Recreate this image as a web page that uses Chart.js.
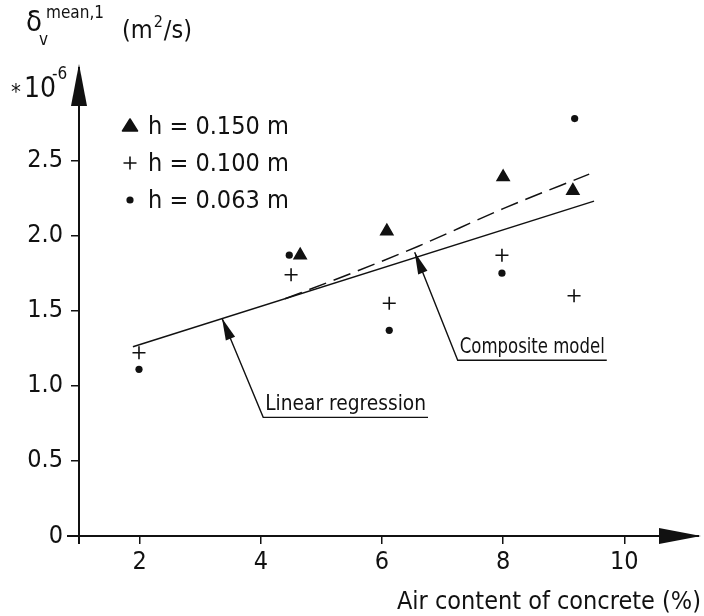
<!DOCTYPE html>
<html>
<head>
<meta charset="utf-8">
<script src="https://cdn.jsdelivr.net/npm/chart.js@4.4.1/dist/chart.umd.min.js"></script>
<style>
  html, body { margin: 0; padding: 0; background: #fff; }
  #wrap { width: 704px; height: 616px; }
</style>
</head>
<body>
<div id="wrap"><canvas id="chart" width="704" height="616"></canvas></div>
<script>
var FONT = '"DejaVu Sans Condensed", "DejaVu Sans", sans-serif';
var INK = "#111";

var xTicks = [2, 4, 6, 8, 10];
var yTicks = [0, 0.5, 1.0, 1.5, 2.0, 2.5];

// h = 0.150 m (triangles)
var airH150 = [4.65, 6.08, 8.0, 9.15];
var valH150 = [1.87, 2.03, 2.39, 2.30];
// h = 0.100 m (crosses)
var airH100 = [1.99, 4.5, 6.12, 7.98, 9.17];
var valH100 = [1.22, 1.74, 1.55, 1.87, 1.60];
// h = 0.063 m (dots)
var airH063 = [1.99, 4.47, 6.12, 7.98, 9.18];
var valH063 = [1.11, 1.87, 1.37, 1.75, 2.78];

var regressionX = [1.89, 9.5];
var regressionY = [1.26, 2.23];
var compositeX = [4.4, 5.5, 6.6, 8.0, 9.42];
var compositeY = [1.58, 1.75, 1.93, 2.18, 2.41];

var legendLabels = ["h = 0.150 m", "h = 0.100 m", "h = 0.063 m"];
var legendStyles = ["triangle", "cross", "circle"];

var calloutLabels = ["Linear regression", "Composite model"];
var calloutTipX = [3.36, 6.54];
var calloutTipY = [1.45, 1.89];
var calloutElbowX = [4.04, 7.25];
var calloutElbowY = [0.79, 1.17];
var calloutEndX = [6.76, 9.71];

function pts(xs, ys) {
  return xs.map(function (x, i) {
    return { x: x, y: ys[i] };
  });
}

function marker(ctx, style, x, y) {
  ctx.save();
  ctx.fillStyle = INK;
  ctx.strokeStyle = INK;
  ctx.lineWidth = 1.6;
  ctx.beginPath();
  if (style === "triangle") {
    ctx.moveTo(x, y - 7);
    ctx.lineTo(x + 7.5, y + 5);
    ctx.lineTo(x - 7.5, y + 5);
    ctx.closePath();
    ctx.lineJoin = "round";
    ctx.fill();
    ctx.stroke();
  } else if (style === "cross") {
    ctx.moveTo(x - 6.5, y);
    ctx.lineTo(x + 6.5, y);
    ctx.moveTo(x, y - 6.5);
    ctx.lineTo(x, y + 6.5);
    ctx.stroke();
  } else {
    ctx.arc(x, y, 3.6, 0, Math.PI * 2);
    ctx.fill();
  }
  ctx.restore();
}

function arrowHead(ctx, fromX, fromY, tipX, tipY, len, half) {
  var a = Math.atan2(tipY - fromY, tipX - fromX);
  ctx.beginPath();
  ctx.moveTo(tipX, tipY);
  ctx.lineTo(tipX - len * Math.cos(a) + half * Math.sin(a), tipY - len * Math.sin(a) - half * Math.cos(a));
  ctx.lineTo(tipX - len * Math.cos(a) - half * Math.sin(a), tipY - len * Math.sin(a) + half * Math.cos(a));
  ctx.closePath();
  ctx.fill();
}

var decorations = {
  id: "decorations",
  afterDraw: function (chart) {
    var ctx = chart.ctx;
    var area = chart.chartArea;
    var xs = chart.scales.x;
    var ys = chart.scales.y;
    ctx.save();
    ctx.strokeStyle = INK;
    ctx.fillStyle = INK;

    // axes with arrow heads
    ctx.lineWidth = 2;
    ctx.beginPath();
    ctx.moveTo(area.left, area.bottom + 8);
    ctx.lineTo(area.left, area.top - 8);
    ctx.moveTo(area.left - 12, area.bottom);
    ctx.lineTo(area.right + 8, area.bottom);
    ctx.stroke();
    arrowHead(ctx, area.left, area.bottom, area.left, area.top - 11, 42, 8);
    arrowHead(ctx, area.left, area.bottom, 701, area.bottom, 42, 8);

    // y axis label
    ctx.textBaseline = "alphabetic";
    ctx.textAlign = "left";
    ctx.font = "29px " + FONT;
    ctx.fillText("\u03b4", 26, 31);
    ctx.font = "17px " + FONT;
    ctx.fillText("v", 39, 45);
    ctx.fillText("mean,1", 46, 18);
    ctx.font = "25px " + FONT;
    var x0 = 122;
    ctx.fillText("(m", x0, 38);
    x0 += ctx.measureText("(m").width + 1;
    ctx.font = "16px " + FONT;
    ctx.fillText("2", x0, 27);
    x0 += ctx.measureText("2").width + 1;
    ctx.font = "25px " + FONT;
    ctx.fillText("/s)", x0, 38);

    // multiplier
    ctx.font = "22px " + FONT;
    ctx.fillText("*", 11, 99);
    ctx.font = "28px " + FONT;
    ctx.fillText("10", 24, 97);
    var w10 = ctx.measureText("10").width;
    ctx.font = "17px " + FONT;
    ctx.fillText("-6", 24 + w10 - 4, 79);

    // x axis title
    ctx.font = "25px " + FONT;
    ctx.textAlign = "right";
    ctx.fillText("Air content of concrete (%)", 701, 609);

    // legend
    ctx.textAlign = "left";
    ctx.textBaseline = "middle";
    ctx.font = "25px " + FONT;
    legendLabels.forEach(function (label, i) {
      var ly = 126 + i * 37;
      marker(ctx, legendStyles[i], 130, ly);
      ctx.fillStyle = INK;
      ctx.fillText(label, 148, ly + 1);
    });

    // callouts
    ctx.textBaseline = "alphabetic";
    ctx.font = "21px " + FONT;
    ctx.lineWidth = 1.4;
    calloutLabels.forEach(function (label, i) {
      var tx = xs.getPixelForValue(calloutTipX[i]);
      var ty = ys.getPixelForValue(calloutTipY[i]);
      var ex = xs.getPixelForValue(calloutElbowX[i]);
      var ey = ys.getPixelForValue(calloutElbowY[i]);
      var endX = xs.getPixelForValue(calloutEndX[i]);
      ctx.beginPath();
      ctx.moveTo(endX, ey);
      ctx.lineTo(ex, ey);
      ctx.lineTo(tx, ty);
      ctx.stroke();
      arrowHead(ctx, ex, ey, tx, ty, 22, 5);
      ctx.fillText(label, ex + 2, ey - 7, endX - ex - 4);
    });
    ctx.restore();
  },
};

var tickFont = { family: FONT, size: 25 };

new Chart(document.getElementById("chart").getContext("2d"), {
  type: "scatter",
  data: {
    datasets: [
      {
        label: legendLabels[0],
        data: pts(airH150, valH150),
        pointStyle: "triangle",
        pointRadius: 7,
        backgroundColor: INK,
        borderColor: INK,
        borderWidth: 1.5,
      },
      {
        label: legendLabels[1],
        data: pts(airH100, valH100),
        pointStyle: "cross",
        pointRadius: 6.5,
        borderColor: INK,
        borderWidth: 1.6,
      },
      {
        label: legendLabels[2],
        data: pts(airH063, valH063),
        pointStyle: "circle",
        pointRadius: 3.6,
        backgroundColor: INK,
        borderColor: INK,
        borderWidth: 0,
      },
      {
        type: "line",
        label: calloutLabels[0],
        data: pts(regressionX, regressionY),
        borderColor: INK,
        borderWidth: 1.5,
        pointRadius: 0,
        fill: false,
      },
      {
        type: "line",
        label: calloutLabels[1],
        data: pts(compositeX, compositeY),
        borderColor: INK,
        borderWidth: 1.5,
        borderDash: [18, 8],
        pointRadius: 0,
        cubicInterpolationMode: "monotone",
        fill: false,
      },
    ],
  },
  options: {
    responsive: false,
    animation: false,
    devicePixelRatio: 1,
    layout: { padding: { top: 75, right: 13, bottom: 0, left: 0 } },
    plugins: {
      legend: { display: false },
      tooltip: { enabled: false },
    },
    scales: {
      x: {
        type: "linear",
        min: 1,
        max: 11.1,
        afterBuildTicks: function (scale) {
          scale.ticks = xTicks.map(function (v) { return { value: v }; });
        },
        afterFit: function (scale) { scale.height = 80; },
        border: { display: false },
        grid: { display: true, drawOnChartArea: false, drawTicks: true, tickLength: 8, color: INK, lineWidth: 1.5 },
        ticks: { color: INK, font: tickFont, padding: 3, maxRotation: 0, autoSkip: false },
      },
      y: {
        type: "linear",
        min: 0,
        max: 3.07,
        afterBuildTicks: function (scale) {
          scale.ticks = yTicks.map(function (v) { return { value: v }; });
        },
        afterFit: function (scale) { scale.width = 79; },
        border: { display: false },
        grid: { display: true, drawOnChartArea: false, drawTicks: true, tickLength: 8, color: INK, lineWidth: 1.5 },
        ticks: {
          color: INK,
          font: tickFont,
          padding: 8,
          autoSkip: false,
          callback: function (v) { return v === 0 ? "0" : v.toFixed(1); },
        },
      },
    },
  },
  plugins: [decorations],
});
</script>
</body>
</html>
